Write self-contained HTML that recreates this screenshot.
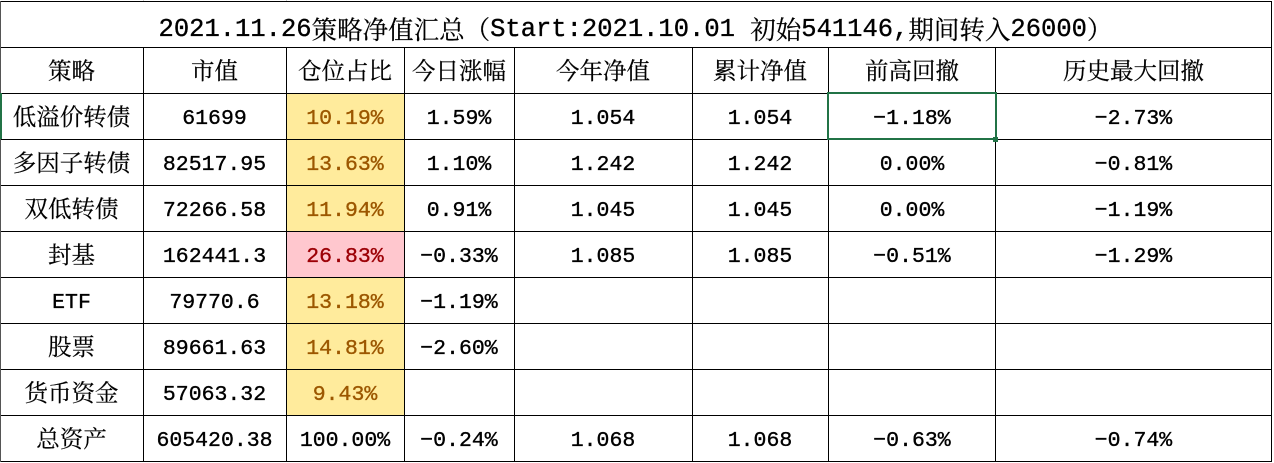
<!DOCTYPE html>
<html><head><meta charset="utf-8">
<style>
html,body{margin:0;padding:0;background:#fff;}
#w{position:relative;width:1274px;height:463px;overflow:hidden;background:#fff;}
.b{position:absolute;}
.c{position:absolute;display:flex;align-items:center;justify-content:center;white-space:pre;
 font-family:"Liberation Mono","Noto Serif CJK SC",serif;font-size:21.5px;color:#000;line-height:1;
 transform:translateY(4px);-webkit-text-stroke:0.35px currentColor;}
.z{font-family:"Noto Serif CJK SC","Liberation Mono",serif;font-size:23.5px;transform:translateY(0px);-webkit-text-stroke:0.2px currentColor;}
.y{background:#FFEB9C;}
.r{background:#FFC7CE;}
.h{position:absolute;height:1px;background:#000;}
.v{position:absolute;width:1px;background:#000;}
.t{font-size:25.5px;transform:translateY(6px);}
.t .k{font-family:"Noto Serif CJK SC",serif;font-size:25.5px;-webkit-text-stroke:0.2px currentColor;}
</style></head><body><div id="w">
<!-- backgrounds -->
<div class="b y" style="left:287px;top:94px;width:117px;height:45px"></div>
<div class="b y" style="left:287px;top:140px;width:117px;height:45px"></div>
<div class="b y" style="left:287px;top:186px;width:117px;height:45px"></div>
<div class="b r" style="left:287px;top:232px;width:117px;height:45px"></div>
<div class="b y" style="left:287px;top:278px;width:117px;height:45px"></div>
<div class="b y" style="left:287px;top:324px;width:117px;height:45px"></div>
<div class="b y" style="left:287px;top:370px;width:117px;height:45px"></div>

<!-- title -->
<div class="c t" style="left:0;top:1px;width:1271px;height:46px">2021.11.26<span class="k">策略净值汇总（</span>Start:2021.10.01&nbsp;<span class="k">初始</span>541146,<span class="k">期间转入</span>26000<span class="k">）</span></div>

<!-- header -->
<div class="c z" style="left:0;top:47px;width:143px;height:46px">策略</div>
<div class="c z" style="left:143px;top:47px;width:143px;height:46px">市值</div>
<div class="c z" style="left:286px;top:47px;width:118px;height:46px">仓位占比</div>
<div class="c z" style="left:404px;top:47px;width:110px;height:46px">今日涨幅</div>
<div class="c z" style="left:514px;top:47px;width:178px;height:46px">今年净值</div>
<div class="c z" style="left:692px;top:47px;width:136px;height:46px">累计净值</div>
<div class="c z" style="left:828px;top:47px;width:168px;height:46px">前高回撤</div>
<div class="c z" style="left:996px;top:47px;width:275px;height:46px">历史最大回撤</div>

<!-- row1 -->
<div class="c z" style="left:0;top:93px;width:143px;height:46px">低溢价转债</div>
<div class="c" style="left:143px;top:93px;width:143px;height:46px">61699</div>
<div class="c" style="left:286px;top:93px;width:118px;height:46px;color:#9C5700">10.19%</div>
<div class="c" style="left:404px;top:93px;width:110px;height:46px">1.59%</div>
<div class="c" style="left:514px;top:93px;width:178px;height:46px">1.054</div>
<div class="c" style="left:692px;top:93px;width:136px;height:46px">1.054</div>
<div class="c" style="left:828px;top:93px;width:168px;height:46px">−1.18%</div>
<div class="c" style="left:996px;top:93px;width:275px;height:46px">−2.73%</div>
<!-- row2 -->
<div class="c z" style="left:0;top:139px;width:143px;height:46px">多因子转债</div>
<div class="c" style="left:143px;top:139px;width:143px;height:46px">82517.95</div>
<div class="c" style="left:286px;top:139px;width:118px;height:46px;color:#9C5700">13.63%</div>
<div class="c" style="left:404px;top:139px;width:110px;height:46px">1.10%</div>
<div class="c" style="left:514px;top:139px;width:178px;height:46px">1.242</div>
<div class="c" style="left:692px;top:139px;width:136px;height:46px">1.242</div>
<div class="c" style="left:828px;top:139px;width:168px;height:46px">0.00%</div>
<div class="c" style="left:996px;top:139px;width:275px;height:46px">−0.81%</div>
<!-- row3 -->
<div class="c z" style="left:0;top:185px;width:143px;height:46px">双低转债</div>
<div class="c" style="left:143px;top:185px;width:143px;height:46px">72266.58</div>
<div class="c" style="left:286px;top:185px;width:118px;height:46px;color:#9C5700">11.94%</div>
<div class="c" style="left:404px;top:185px;width:110px;height:46px">0.91%</div>
<div class="c" style="left:514px;top:185px;width:178px;height:46px">1.045</div>
<div class="c" style="left:692px;top:185px;width:136px;height:46px">1.045</div>
<div class="c" style="left:828px;top:185px;width:168px;height:46px">0.00%</div>
<div class="c" style="left:996px;top:185px;width:275px;height:46px">−1.19%</div>
<!-- row4 -->
<div class="c z" style="left:0;top:231px;width:143px;height:46px">封基</div>
<div class="c" style="left:143px;top:231px;width:143px;height:46px">162441.3</div>
<div class="c" style="left:286px;top:231px;width:118px;height:46px;color:#9C0006">26.83%</div>
<div class="c" style="left:404px;top:231px;width:110px;height:46px">−0.33%</div>
<div class="c" style="left:514px;top:231px;width:178px;height:46px">1.085</div>
<div class="c" style="left:692px;top:231px;width:136px;height:46px">1.085</div>
<div class="c" style="left:828px;top:231px;width:168px;height:46px">−0.51%</div>
<div class="c" style="left:996px;top:231px;width:275px;height:46px">−1.29%</div>
<!-- row5 -->
<div class="c" style="left:0;top:277px;width:143px;height:46px">ETF</div>
<div class="c" style="left:143px;top:277px;width:143px;height:46px">79770.6</div>
<div class="c" style="left:286px;top:277px;width:118px;height:46px;color:#9C5700">13.18%</div>
<div class="c" style="left:404px;top:277px;width:110px;height:46px">−1.19%</div>
<!-- row6 -->
<div class="c z" style="left:0;top:323px;width:143px;height:46px">股票</div>
<div class="c" style="left:143px;top:323px;width:143px;height:46px">89661.63</div>
<div class="c" style="left:286px;top:323px;width:118px;height:46px;color:#9C5700">14.81%</div>
<div class="c" style="left:404px;top:323px;width:110px;height:46px">−2.60%</div>
<!-- row7 -->
<div class="c z" style="left:0;top:369px;width:143px;height:46px">货币资金</div>
<div class="c" style="left:143px;top:369px;width:143px;height:46px">57063.32</div>
<div class="c" style="left:286px;top:369px;width:118px;height:46px;color:#9C5700">9.43%</div>
<!-- row8 -->
<div class="c z" style="left:0;top:415px;width:143px;height:46px">总资产</div>
<div class="c" style="left:143px;top:415px;width:143px;height:46px">605420.38</div>
<div class="c" style="left:286px;top:415px;width:118px;height:46px">100.00%</div>
<div class="c" style="left:404px;top:415px;width:110px;height:46px">−0.24%</div>
<div class="c" style="left:514px;top:415px;width:178px;height:46px">1.068</div>
<div class="c" style="left:692px;top:415px;width:136px;height:46px">1.068</div>
<div class="c" style="left:828px;top:415px;width:168px;height:46px">−0.63%</div>
<div class="c" style="left:996px;top:415px;width:275px;height:46px">−0.74%</div>

<!-- horizontal lines -->
<div class="h" style="left:0;top:1px;width:1272px"></div>
<div class="h" style="left:0;top:47px;width:1272px"></div>
<div class="h" style="left:0;top:93px;width:1272px"></div>
<div class="h" style="left:0;top:139px;width:1272px"></div>
<div class="h" style="left:0;top:185px;width:1272px"></div>
<div class="h" style="left:0;top:231px;width:1272px"></div>
<div class="h" style="left:0;top:277px;width:1272px"></div>
<div class="h" style="left:0;top:323px;width:1272px"></div>
<div class="h" style="left:0;top:369px;width:1272px"></div>
<div class="h" style="left:0;top:415px;width:1272px"></div>
<div class="h" style="left:0;top:461px;width:1272px"></div>
<!-- vertical lines -->
<div class="v" style="left:0;top:1px;height:461px;background:#555"></div>
<div class="v" style="left:1271px;top:1px;height:461px"></div>
<div class="v" style="left:143px;top:47px;height:415px"></div>
<div class="v" style="left:286px;top:47px;height:415px"></div>
<div class="v" style="left:404px;top:47px;height:415px"></div>
<div class="v" style="left:514px;top:47px;height:415px"></div>
<div class="v" style="left:692px;top:47px;height:415px"></div>
<div class="v" style="left:828px;top:47px;height:415px"></div>
<div class="v" style="left:995px;top:47px;height:415px"></div>
<div class="v" style="left:143px;top:0;height:1px;background:#d0d0d0"></div>
<div class="v" style="left:286px;top:0;height:1px;background:#d0d0d0"></div>

<!-- selection -->
<div style="position:absolute;left:827px;top:92px;width:166px;height:44px;border:2px solid #217346"></div>
<div style="position:absolute;left:993px;top:137px;width:5px;height:5px;background:#217346"></div>
<div style="position:absolute;left:0;top:93px;width:2px;height:46px;background:#217346"></div>
</div></body></html>
